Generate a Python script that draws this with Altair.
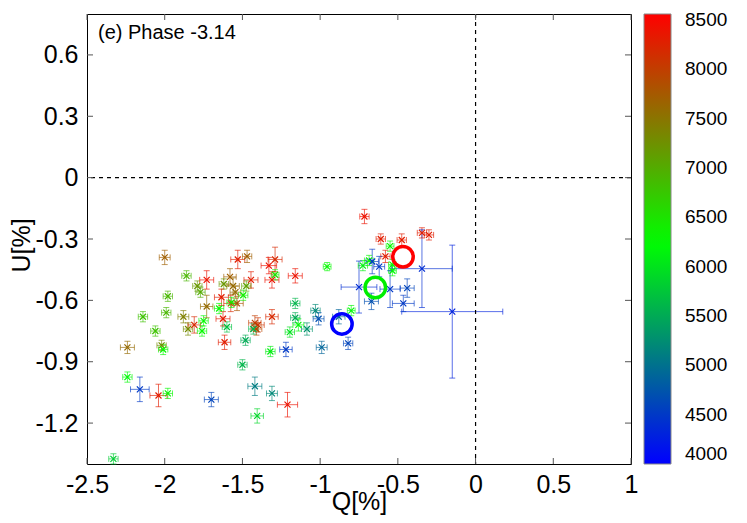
import altair as alt
import pandas as pd

FONT = "Liberation Sans"

# ---- data ----
q = [-2.00, -1.86, -1.73, -1.79, -1.77, -1.98, -1.73, -1.99, -2.14, -1.88,
     -1.75, -1.81, -1.85, -2.06, -1.76, -2.24, -2.02, -2.01, -2.24, -2.16,
     -2.04, -1.98, -1.70, -2.33, -1.53, -1.47, -1.33, -1.29, -1.29, -1.31,
     -1.16, -0.955, -1.58, -1.62, -1.56, -1.445, -1.475, -1.495, -1.545, -1.635,
     -1.575, -1.535, -1.57, -1.65, -1.625, -1.60, -1.42, -1.40, -1.41, -1.43,
     -1.31, -1.16, -1.16, -1.14, -1.195, -1.085, -1.03, -1.01, -1.615, -1.48,
     -1.32, -1.22, -0.99, -1.50, -1.42, -1.31, -1.21, -1.405, -0.715, -0.61,
     -0.475, -0.55, -0.58, -0.345, -0.30, -0.685, -0.725, -0.665, -0.62, -0.535,
     -0.535, -0.345, -0.75, -0.55, -0.44, -0.67, -0.465, -0.15, -0.88, -0.80,
     -0.82]
u = [-0.39, -0.48, -0.50, -0.53, -0.56, -0.58, -0.63, -0.66, -0.68, -0.68,
     -0.70, -0.72, -0.74, -0.75, -0.75, -0.83, -0.82, -0.84, -0.975, -1.035,
     -1.065, -1.055, -1.085, -1.375, -0.40, -0.385, -0.43, -0.40, -0.475, -0.50,
     -0.48, -0.435, -0.485, -0.52, -0.53, -0.50, -0.53, -0.575, -0.56, -0.585,
     -0.615, -0.615, -0.61, -0.64, -0.69, -0.73, -0.71, -0.72, -0.74, -0.74,
     -0.68, -0.615, -0.685, -0.72, -0.755, -0.74, -0.65, -0.69, -0.805, -0.795,
     -0.85, -0.84, -0.83, -0.915, -1.02, -1.055, -1.11, -1.165, -0.19, -0.30,
     -0.305, -0.335, -0.385, -0.27, -0.28, -0.405, -0.43, -0.41, -0.435, -0.425,
     -0.455, -0.445, -0.535, -0.545, -0.54, -0.605, -0.615, -0.655, -0.68, -0.65,
     -0.81]
wl = [7700, 6900, 8400, 7200, 7000, 6900, 7600, 6900, 6800, 7400,
      6300, 8200, 7300, 6800, 6300, 7600, 7300, 6300, 6200, 4500,
      8300, 6300, 4600, 5800, 8300, 7700, 8400, 8200, 6500, 8400,
      8400, 6300, 7700, 7200, 7600, 8300, 7100, 6400, 7600, 8300,
      8200, 7800, 6300, 6300, 8300, 5700, 8000, 8100, 7900, 5600,
      8200, 5600, 5500, 6200, 6000, 5300, 5200, 4700, 8300, 5500,
      6100, 4500, 4900, 5600, 5100, 5200, 8400, 5900, 8400, 8300,
      8300, 6300, 8300, 8300, 8300, 6300, 6100, 4500, 4500, 6300,
      6200, 4400, 4400, 4500, 4600, 4700, 4500, 4300, 4900, 6200,
      4600]
qerr = [0.035, 0.03, 0.045, 0.03, 0.03, 0.03, 0.04, 0.03, 0.03, 0.035,
        0.03, 0.04, 0.03, 0.03, 0.03, 0.045, 0.03, 0.03, 0.03, 0.06,
        0.055, 0.03, 0.045, 0.03, 0.045, 0.03, 0.05, 0.045, 0.025, 0.045,
        0.045, 0.025, 0.04, 0.03, 0.04, 0.045, 0.03, 0.03, 0.035, 0.045,
        0.045, 0.04, 0.03, 0.03, 0.045, 0.03, 0.04, 0.04, 0.035, 0.03,
        0.04, 0.03, 0.03, 0.035, 0.03, 0.035, 0.03, 0.035, 0.04, 0.03,
        0.03, 0.04, 0.035, 0.03, 0.045, 0.035, 0.065, 0.04, 0.03, 0.03,
        0.03, 0.025, 0.03, 0.03, 0.03, 0.03, 0.03, 0.04, 0.035, 0.025,
        0.025, 0.195, 0.115, 0.065, 0.045, 0.045, 0.07, 0.325, 0.04, 0.025,
        0.03]
uerr = [0.035, 0.025, 0.045, 0.025, 0.025, 0.025, 0.055, 0.025, 0.025, 0.03,
        0.025, 0.04, 0.03, 0.025, 0.025, 0.03, 0.025, 0.025, 0.025, 0.06,
        0.055, 0.025, 0.035, 0.025, 0.045, 0.03, 0.04, 0.06, 0.025, 0.04,
        0.035, 0.02, 0.04, 0.025, 0.04, 0.04, 0.025, 0.025, 0.03, 0.04,
        0.04, 0.035, 0.025, 0.025, 0.035, 0.025, 0.035, 0.035, 0.03, 0.025,
        0.035, 0.025, 0.025, 0.03, 0.025, 0.03, 0.03, 0.03, 0.035, 0.025,
        0.025, 0.035, 0.03, 0.025, 0.045, 0.035, 0.06, 0.035, 0.035, 0.025,
        0.03, 0.025, 0.03, 0.025, 0.025, 0.025, 0.025, 0.06, 0.05, 0.025,
        0.025, 0.19, 0.127, 0.09, 0.045, 0.04, 0.04, 0.325, 0.035, 0.025,
        0.03]

mean_q = [-0.86, -0.645, -0.467]
mean_u = [-0.715, -0.537, -0.387]
mean_col = ["#0000ff", "#00ee00", "#ff0000"]

xticks = [-2.5, -2, -1.5, -1, -0.5, 0, 0.5, 1]
yticks = [-1.2, -0.9, -0.6, -0.3, 0, 0.3, 0.6]
cb_values = [4000, 4500, 5000, 5500, 6000, 6500, 7000, 7500, 8000, 8500]
label_text = ["(e) Phase -3.14"]

W, H = 544, 450
XD = [-2.5, 1]
YD = [-1.4, 0.8]
CD = [4000, 6250, 8560]
# half-length of error-bar caps (3 px) expressed in data units
CAPQ = 3 * (XD[1] - XD[0]) / W
CAPU = 3 * (YD[1] - YD[0]) / H

df = pd.DataFrame(dict(q=q, u=u, wl=wl, qe=qerr, ue=uerr))
df["qlo"] = df.q - df.qe
df["qhi"] = df.q + df.qe
df["ulo"] = df.u - df.ue
df["uhi"] = df.u + df.ue
df["ucl"] = df.u - CAPU
df["uch"] = df.u + CAPU
df["qcl"] = df.q - CAPQ
df["qch"] = df.q + CAPQ

dmean = pd.DataFrame(dict(q=mean_q, u=mean_u, c=mean_col))

xs = alt.Scale(domain=XD, nice=False, zero=False)
ys = alt.Scale(domain=YD, nice=False, zero=False)
cs = alt.Scale(domain=CD, range=["#0000ff", "#00ff00", "#ff0000"], interpolate="rgb")

LX = 557
legend = alt.Legend(type="gradient", orient="none", legendX=LX, legendY=0,
                    direction="vertical", gradientLength=H, gradientThickness=27,
                    title=None, values=cb_values, format="d", labelFontSize=19,
                    labelFont=FONT, labelOffset=14, gradientStrokeColor="#888888",
                    gradientStrokeWidth=1, labelColor="black", labelOverlap=False)
color = alt.Color("wl:Q", scale=cs, legend=legend)

xaxis = alt.Axis(values=xticks, labelExpr="toString(datum.value)", labelPadding=8,
                 labelFlush=False, title="Q[%]", titleBaseline="alphabetic", titleY=45)
yaxis = alt.Axis(values=yticks, labelExpr="toString(datum.value)", labelPadding=9,
                 labelFlush=False, title="U[%]", titleX=-53, titleY=231)


def X(f):
    return alt.X(f, scale=xs, axis=xaxis)


def Y(f):
    return alt.Y(f, scale=ys, axis=yaxis)


base = alt.Chart(df)
EB = dict(strokeOpacity=0.65, strokeWidth=1)

hbar = base.mark_rule(clip=True, **EB).encode(
    x=X("qlo:Q"), x2="qhi:Q", y=Y("u:Q"), color=color)
vbar = base.mark_rule(clip=True, **EB).encode(
    x=X("q:Q"), y=Y("ulo:Q"), y2="uhi:Q", color=color)
capL = base.mark_rule(**EB).encode(x=X("qlo:Q"), y=Y("ucl:Q"), y2="uch:Q", color=color)
capR = base.mark_rule(**EB).encode(x=X("qhi:Q"), y=Y("ucl:Q"), y2="uch:Q", color=color)
capB = base.mark_rule(**EB).encode(x=X("qcl:Q"), x2="qch:Q", y=Y("ulo:Q"), color=color)
capT = base.mark_rule(**EB).encode(x=X("qcl:Q"), x2="qch:Q", y=Y("uhi:Q"), color=color)

pts = base.mark_point(shape="M-1,-1L1,1M-1,1L1,-1", size=36, strokeWidth=1.2,
                      filled=False, opacity=1).encode(
    x=X("q:Q"), y=Y("u:Q"), color=color)

circles = alt.Chart(dmean).mark_point(shape="circle", size=420, strokeWidth=3.5,
                                      filled=False, opacity=1).encode(
    x=X("q:Q"), y=Y("u:Q"), stroke=alt.Stroke("c:N", scale=None))

zero_df = pd.DataFrame({"z": [0]})
vzero = alt.Chart(zero_df).mark_rule(strokeDash=[4, 4], color="black", strokeWidth=1.2).encode(
    x=X("z:Q"))
hzero = alt.Chart(zero_df).mark_rule(strokeDash=[4, 4], color="black", strokeWidth=1.2).encode(
    y=Y("z:Q"))

xt = alt.Chart(pd.DataFrame({"t": xticks}))
yt = alt.Chart(pd.DataFrame({"t": yticks}))
TK = "#555555"
tb = xt.mark_rule(color=TK).encode(x=X("t:Q"), y=alt.value(H), y2=alt.value(H - 6))
tt = xt.mark_rule(color=TK).encode(x=X("t:Q"), y=alt.value(0), y2=alt.value(6))
tl = yt.mark_rule(color=TK).encode(y=Y("t:Q"), x=alt.value(0), x2=alt.value(6))
tr = yt.mark_rule(color=TK).encode(y=Y("t:Q"), x=alt.value(W), x2=alt.value(W - 6))

label = alt.Chart(pd.DataFrame({"t": label_text})).mark_text(
    align="left", baseline="alphabetic", fontSize=20, font=FONT, color="black").encode(
    x=alt.value(11), y=alt.value(25), text="t:N")

main = alt.layer(hbar, vbar, capL, capR, capB, capT, pts, circles, vzero, hzero,
                 tb, tt, tl, tr, label)

# small tick marks inside the colour bar
cbs = alt.Scale(domain=[CD[0], CD[-1]], nice=False, zero=False)
cbt = alt.Chart(pd.DataFrame({"v": cb_values[1:-1]}))
cb_left = cbt.mark_rule(color="#333333").encode(
    y=alt.Y("v:Q", scale=cbs, axis=None), x=alt.value(LX), x2=alt.value(LX + 5))
cb_right = cbt.mark_rule(color="#333333").encode(
    y=alt.Y("v:Q", scale=cbs, axis=None), x=alt.value(LX + 22), x2=alt.value(LX + 27))
cb = alt.layer(cb_left, cb_right)

chart = alt.layer(main, cb).resolve_scale(y="independent").properties(
    width=W, height=H,
    autosize=alt.AutoSizeParams(type="none"),
    padding={"left": 79, "top": 6, "right": 108, "bottom": 51},
).configure_view(stroke="black", strokeWidth=1).configure_axis(
    grid=False, domain=False, ticks=False, labelFont=FONT, titleFont=FONT,
    labelFontSize=25, titleFontSize=25, titleFontWeight="normal",
    labelColor="black", titleColor="black")

chart.save("out.html", embed_options={"renderer": "svg", "actions": False})
